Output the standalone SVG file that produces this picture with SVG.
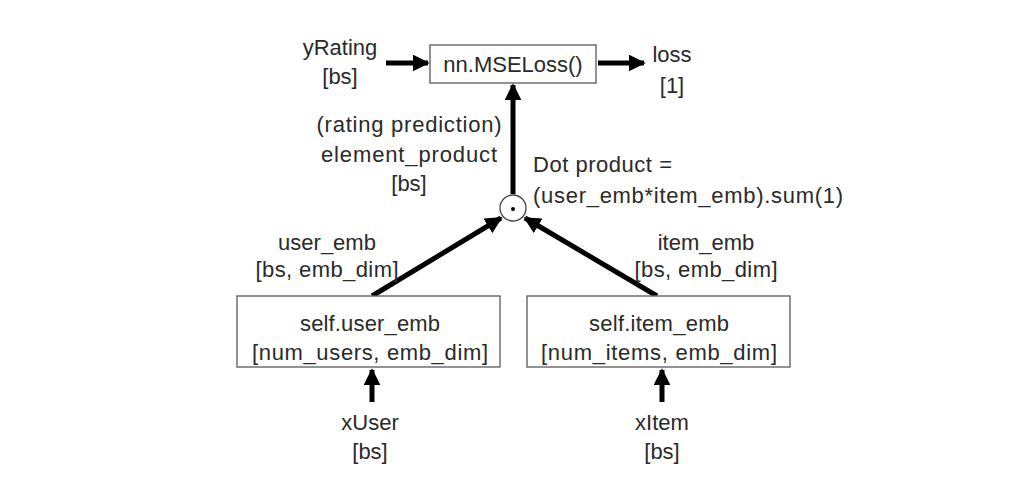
<svg xmlns="http://www.w3.org/2000/svg" width="1024" height="486" viewBox="0 0 1024 486">
<defs>
<style>
text{font-family:"Liberation Sans",Arial,sans-serif;font-size:22px;fill:#2a2a2a;}
.c{text-anchor:middle;}
.box{fill:#fff;stroke:#666;stroke-width:1.4;}
.arr{stroke:#000;stroke-width:5;fill:none;}
</style>
<marker id="ah" viewBox="0 0 10 10" refX="9" refY="5" markerWidth="3.4" markerHeight="3.4" markerUnits="strokeWidth" orient="auto">
<path d="M0,0 L10,5 L0,10 Z" fill="#000"/>
</marker>
</defs>
<rect width="1024" height="486" fill="#fff"/>
<g id="connectors">
<line class="arr" x1="386" y1="63" x2="428" y2="63" marker-end="url(#ah)"/>
<line class="arr" x1="598" y1="63" x2="644" y2="63" marker-end="url(#ah)"/>
<line class="arr" x1="513" y1="194" x2="513" y2="85" marker-end="url(#ah)"/>
<line class="arr" x1="372" y1="296" x2="501" y2="218" marker-end="url(#ah)"/>
<line class="arr" x1="657" y1="296" x2="525" y2="218" marker-end="url(#ah)"/>
<line class="arr" x1="372" y1="402" x2="372" y2="370" marker-end="url(#ah)"/>
<line class="arr" x1="662" y1="402" x2="662" y2="370" marker-end="url(#ah)"/>
</g>
<g id="yRating">
<text class="c" x="340" y="55">yRating</text>
<text class="c" x="340" y="84">[bs]</text>
</g>
<g id="mseloss">
<rect class="box" x="430" y="45" width="166" height="38"/>
<text class="c" x="513" y="72">nn.MSELoss()</text>
</g>
<g id="loss">
<text class="c" x="672" y="62">loss</text>
<text class="c" x="672" y="93">[1]</text>
</g>
<g id="prediction-label">
<text class="c" x="409" y="132" textLength="185">(rating prediction)</text>
<text class="c" x="409" y="162" textLength="176">element_product</text>
<text class="c" x="409" y="191">[bs]</text>
</g>
<g id="dot-label">
<text x="533" y="172" textLength="139">Dot product =</text>
<text x="533" y="203" textLength="310">(user_emb*item_emb).sum(1)</text>
</g>
<g id="dot">
<circle cx="513" cy="208" r="13" fill="#fff" stroke="#444" stroke-width="1.3"/>
<circle cx="513" cy="209" r="2" fill="#000"/>
</g>
<g id="user-emb-label">
<text class="c" x="327" y="250">user_emb</text>
<text class="c" x="327" y="277" textLength="143">[bs, emb_dim]</text>
</g>
<g id="item-emb-label">
<text class="c" x="706" y="250">item_emb</text>
<text class="c" x="706" y="277" textLength="143">[bs, emb_dim]</text>
</g>
<g id="user-emb">
<rect class="box" x="237" y="296" width="263" height="71"/>
<text class="c" x="370" y="331" textLength="140">self.user_emb</text>
<text class="c" x="370" y="360" textLength="236">[num_users, emb_dim]</text>
</g>
<g id="item-emb">
<rect class="box" x="527" y="296" width="263" height="71"/>
<text class="c" x="659" y="331" textLength="140">self.item_emb</text>
<text class="c" x="659" y="360" textLength="236">[num_items, emb_dim]</text>
</g>
<g id="xUser">
<text class="c" x="370" y="430">xUser</text>
<text class="c" x="370" y="459">[bs]</text>
</g>
<g id="xItem">
<text class="c" x="662" y="430">xItem</text>
<text class="c" x="662" y="459">[bs]</text>
</g>
</svg>
